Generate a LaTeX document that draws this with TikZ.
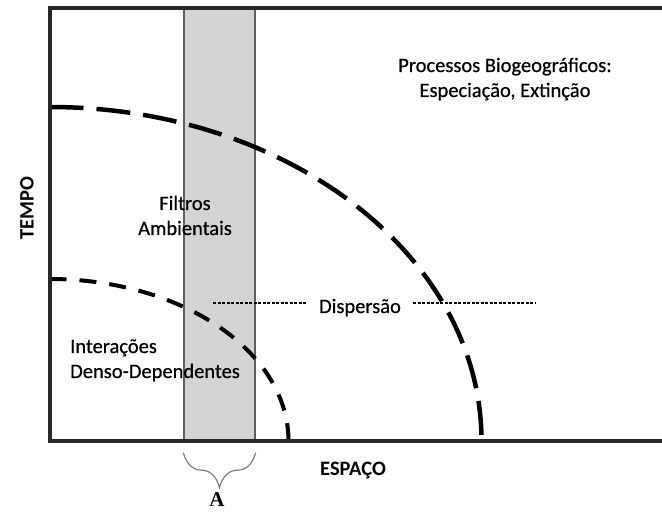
\documentclass[tikz,border=0pt]{standalone}
\usepackage{fontspec}
\setmainfont{Carlito}
\newfontfamily\meiofont{Carlito}[FakeBold=0.6]
\newfontfamily\letraserif{Liberation Serif}
\usetikzlibrary{positioning, calc, decorations.pathreplacing}
\definecolor{faixa}{RGB}{212,212,214}
\definecolor{bordafaixa}{RGB}{95,95,95}
\definecolor{eixo}{RGB}{40,40,40}

\begin{document}
\begin{tikzpicture}[x=1pt, y=1pt,
        rotulo/.style={font=\fontsize{20.5}{25}\selectfont\meiofont, inner sep=0pt},
        eixolinha/.style={draw=eixo, line width=4pt},
        arcogrande/.style={line width=4.5pt, dash pattern=on 34pt off 13pt},
        arcopequeno/.style={line width=4pt, dash pattern=on 17pt off 13pt},
        linhadisp/.style={line width=1.1pt, dash pattern=on 3pt off 1.5pt},
        chave/.style={draw=gray, line width=1.2pt, decorate, decoration={brace, amplitude=35pt}}]
        \useasboundingbox (0,0) rectangle (662,514);

        \node[rectangle, draw=bordafaixa, fill=faixa, line width=1.3pt, minimum width=71pt, minimum height=433pt, inner sep=0pt] (filtro) at (219.5,289.5) {};

        \draw[arcogrande] (49.5,407) arc[start angle=90, end angle=0, x radius=432, y radius=334];
        \draw[arcopequeno] (49.5,235) arc[start angle=90, end angle=0, x radius=239, y radius=162];

        \draw[eixolinha] (662,506) -- (49.5,506) -- (49.5,73) -- (662,73);

        \node[rotulo, font=\fontsize{20.5}{25}\selectfont\bfseries, rotate=90] (tempo) at (27,306) {TEMPO};
        \node[rotulo, font=\fontsize{20.5}{25}\selectfont\bfseries, anchor=base west] (espaco) at (320,38) {ESPAÇO};

        \node[rotulo, align=center, anchor=base] (proc) at (505,417) {Processos Biogeográficos:\\Especiação, Extinção};
        \node[rotulo, align=center, anchor=base] (filt) at (185,279) {Filtros\\Ambientais};
        \node[rotulo, align=left, anchor=base west] (inter) at (70,136) {Interações\\Denso-Dependentes};

        \node[rotulo, anchor=base, inner xsep=12pt] (disp) at (360,201) {Dispersão};
        \coordinate (dispE) at (213,211);
        \coordinate (dispD) at (536,211);
        \draw[linhadisp] (dispE) -- (dispE -| disp.west);
        \draw[linhadisp] (dispD -| disp.east) -- (dispD);

        \draw[chave] ([yshift=-11pt]filtro.south east) -- ([yshift=-11pt]filtro.south west);
        \node[inner sep=0pt, anchor=north, font=\fontsize{21}{24}\letraserif\bfseries] (letraA) at (217,22) {A};
    \end{tikzpicture}
\end{document}
